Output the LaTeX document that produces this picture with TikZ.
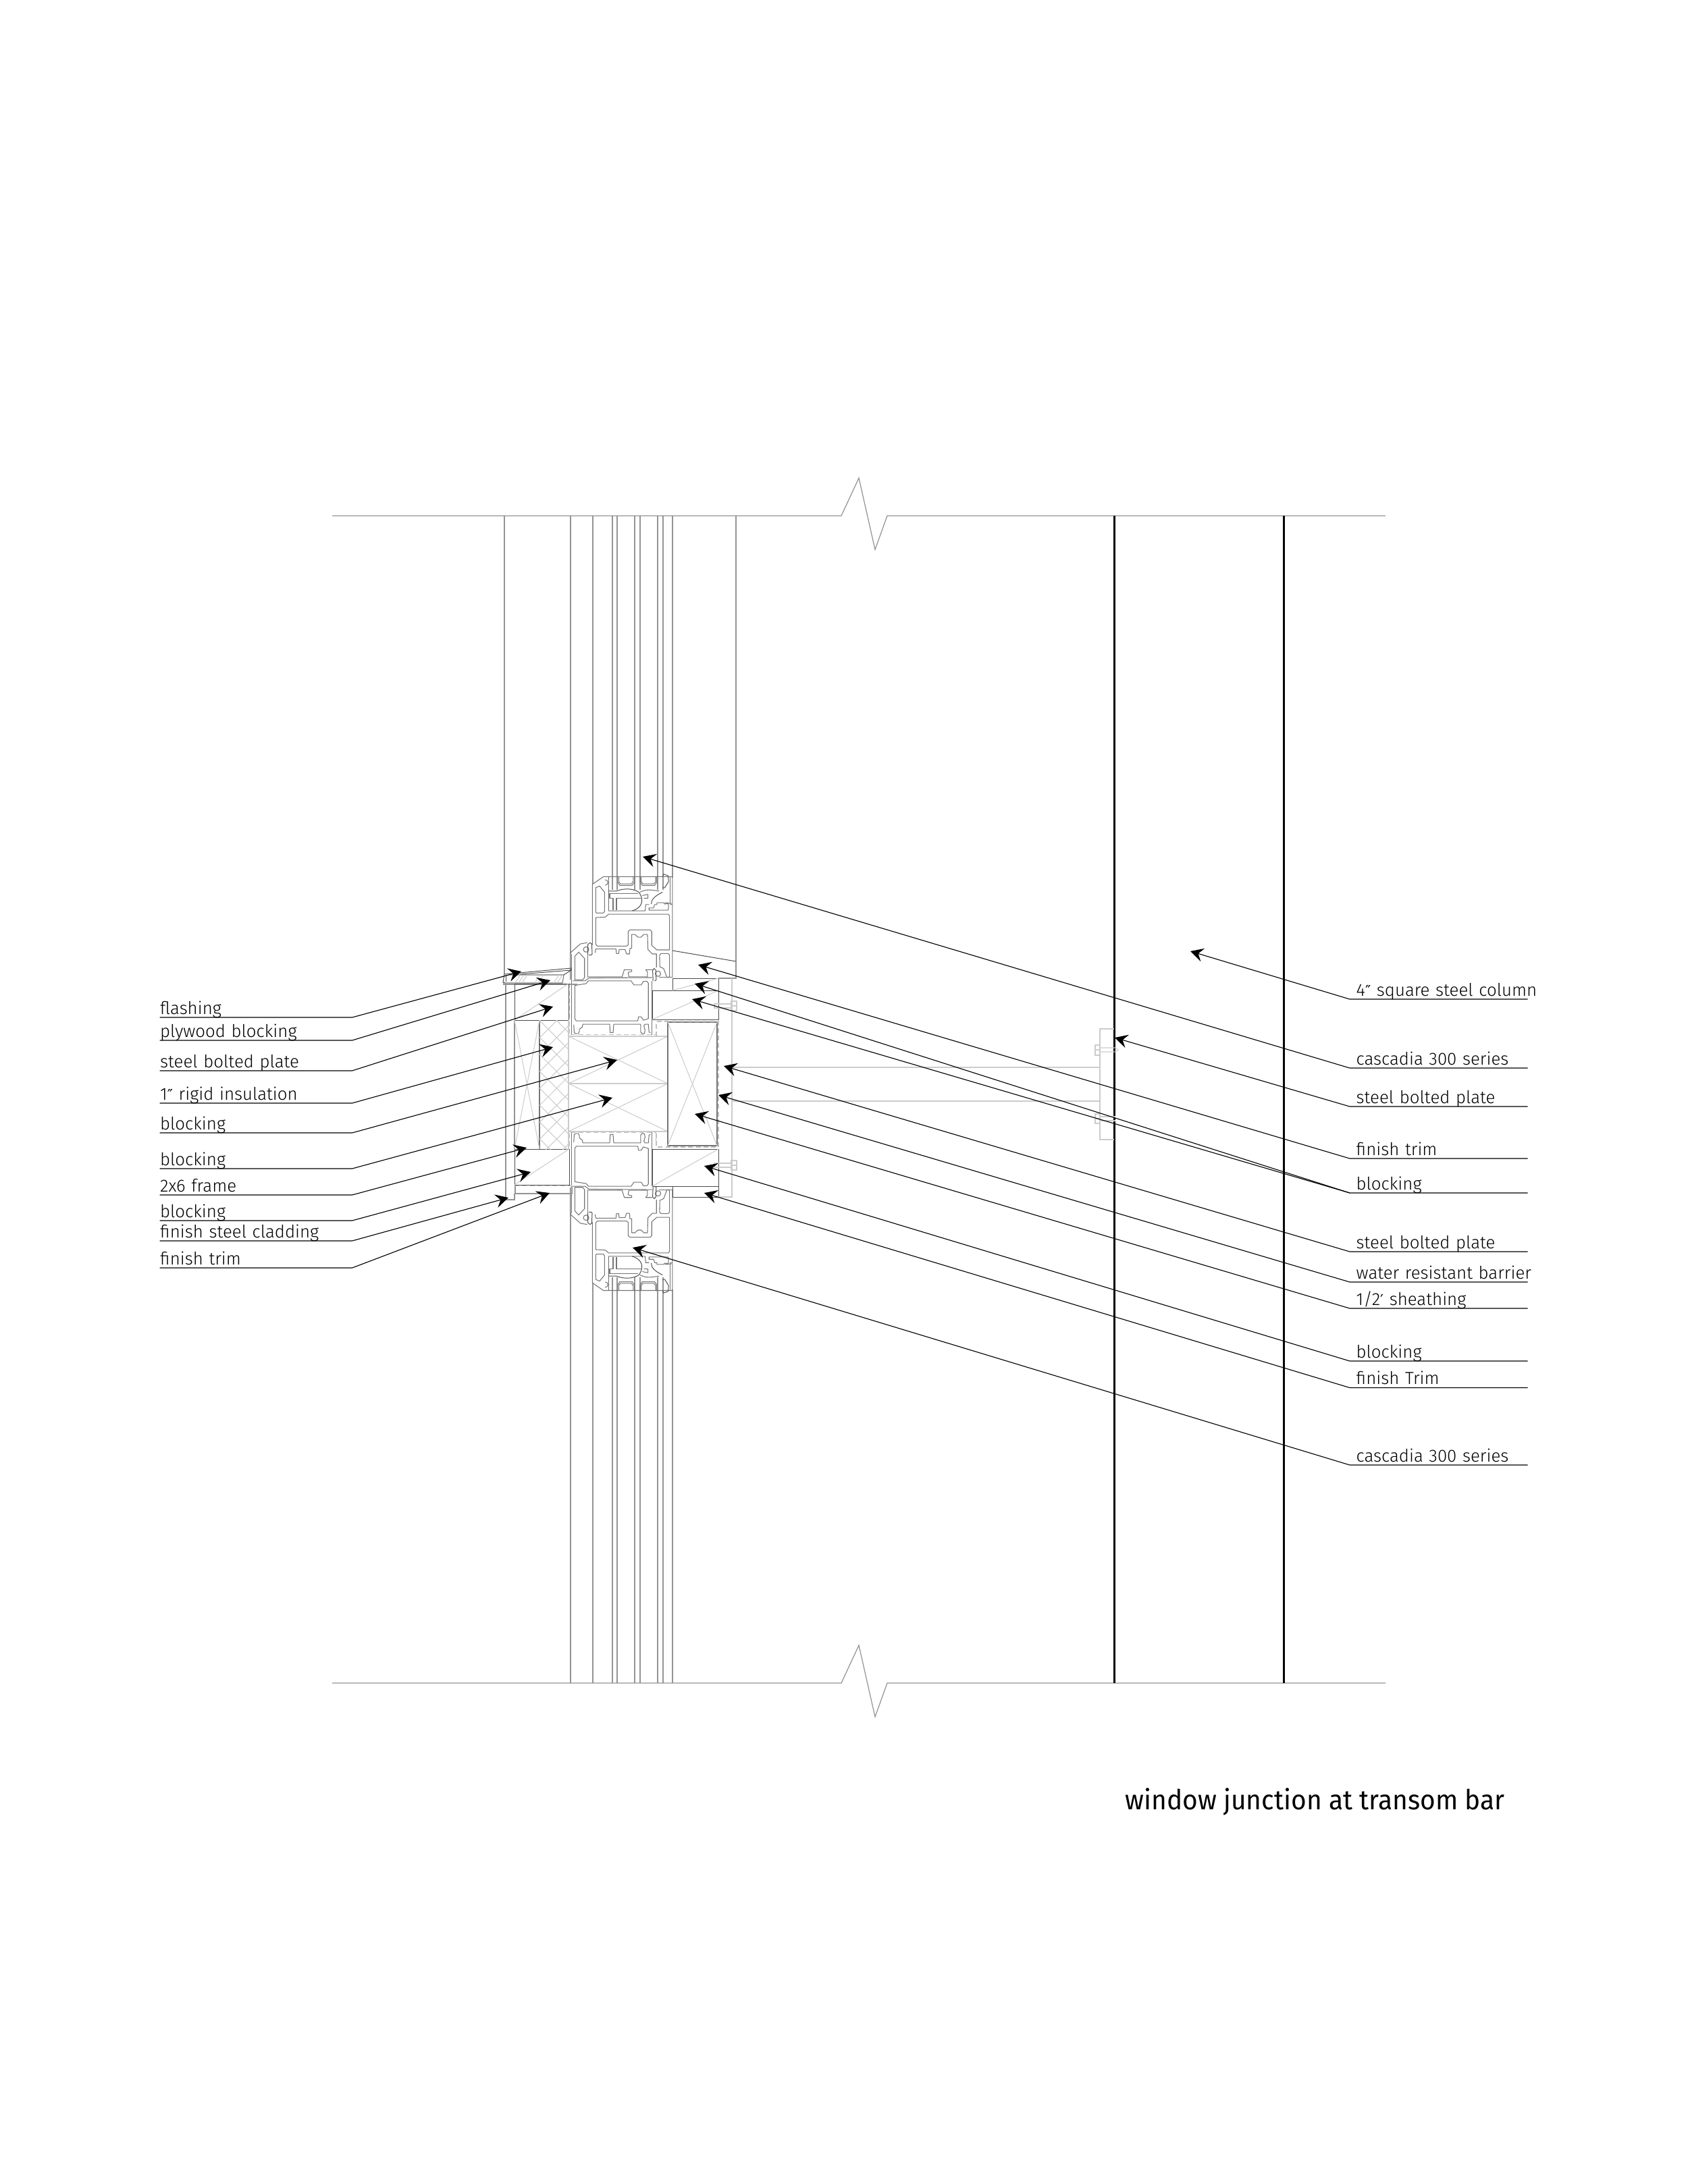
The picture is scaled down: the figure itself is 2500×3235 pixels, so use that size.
\documentclass[tikz,border=0pt]{standalone}
\usepackage{fontspec}
\setmainfont{Fira Sans}[UprightFont=* Light]
\newfontfamily\primefont{DejaVu Sans}[Scale=0.85]
\newfontfamily\titlefont{Fira Sans}[FakeStretch=0.953]
\usetikzlibrary{arrows.meta}
\definecolor{inkdark}{gray}{0.3}
\definecolor{inkframe}{gray}{0.46}
\definecolor{inkglass}{gray}{0.58}
\definecolor{inklight}{gray}{0.8}
\tikzset{
	x=0.01cm, y=-0.01cm,
	lbl/.style={anchor=south west, inner sep=0pt, text width=2.835cm, text depth=0.04cm, font=\fontsize{7.35}{9}\selectfont},
	lbr/.style={anchor=south west, inner ysep=0pt, inner xsep=0.09cm, text width=2.44cm, text depth=0.04cm, font=\fontsize{7.35}{9}\selectfont},
	leader/.style={draw=black, line width=0.32pt, -{Stealth[length=0.19cm,width=0.2cm,inset=0.07cm]}},
	glassline/.style={draw=inkglass, line width=0.4pt},
	profile/.style={draw=inkframe, line width=0.3pt, line join=round},
	blockline/.style={draw=inkdark, line width=0.28pt},
	lightline/.style={draw=inklight, line width=0.3pt},
	greyline/.style={draw=inkglass, line width=0.35pt},
	barrier/.style={draw=inkglass!60, line width=0.3pt, dash pattern=on 2pt off 1.2pt}
}
\newcommand{\frameprofile}{
	\draw[profile] (533,600) -- (533,330) -- (582,296) -- (889,296) -- (889,745);
	\draw[profile] (548,345) -- (565,338) -- (587,365) -- (587,450) -- (582,458) -- (552,458) -- (548,455) -- cycle;
	\draw[profile] (590,310) arc (90:270:-12);
	\draw[profile] (548,478) -- (590,476) -- (605,463) -- (870,463) -- (876,470) -- (876,622) -- (820,622) -- (797,602) -- (797,540) -- (790,533) -- (700,533) -- (692,540) -- (692,600) -- (685,605) -- (555,605) -- (548,598) -- cycle;
	\draw[profile] (545,635) -- (548,618) -- (638,618) -- (640,638) -- (650,638) -- (652,620) -- (678,620) -- (685,640) -- (698,640) -- (700,615) -- (708,615) -- (708,553) -- (722,553) -- (735,565) -- (750,565) -- (762,553) -- (778,553) -- (780,620) -- (800,640) -- (818,640) -- (818,700);
	\draw[profile] (515,742) -- (665,742) -- (675,710) -- (708,710) -- (708,718) -- (692,722) -- (695,742) -- (778,742) -- (778,720) -- (770,710) -- (798,710);
	\draw[profile] (435,755) -- (435,635) -- (480,595) -- (510,590);
	\draw[profile] (455,650) -- (472,632) -- (498,660) -- (498,745) -- (490,755) -- (455,755) -- cycle;
	\draw[profile] (512,600) -- (512,745);
	\draw[profile] (505,620) circle [radius=12];
	\draw[blockline] (513,640) -- (513,598) -- (522,590) -- (530,595) -- (532,640) -- (528,645) -- (517,645);
	\draw[profile] (825,728) circle [radius=12];
	\draw[blockline] (803,760) -- (801,712) -- (808,705) -- (815,712) -- (817,755) -- (810,760);
	\draw[profile] (832,645) -- (838,638) -- (870,638) -- (876,645) -- (876,740) -- (870,745) -- (865,745) -- (850,705) -- (833,697) -- cycle;
	\draw[profile] (445,760) -- (500,760) -- (518,747) -- (800,745);
	\draw[profile] (830,745) -- (889,745);
	\draw[profile] (455,780) -- (505,772) -- (515,760) -- (705,760) -- (718,778) -- (750,778) -- (760,762) -- (775,762) -- (782,770) -- (782,928) -- (760,935) -- (750,920) -- (738,920) -- (735,938) -- (462,938) -- (455,930) -- cycle;
	\draw[profile] (440,640) -- (440,1000);
	\draw[profile] (798,760) -- (798,1000);
	\draw[profile] (450,955) -- (452,990) -- (460,995) -- (470,995) -- (475,985) -- (475,975) -- (488,965) -- (490,953) -- (610,953) -- (612,990) -- (625,990) -- (628,953) -- (748,953) -- (748,988) -- (755,995) -- (765,993) -- (767,978) -- (762,960) -- (767,953) -- (782,953) -- (785,988) -- (792,990);
	\draw[barrier] (430,770) -- (430,1000) -- (815,1000) -- (815,940);
	\draw[profile] (645,293) -- (645,320) -- (655,335) -- (710,335) -- (720,320) -- (720,293);
	\draw[profile] (650,298) -- (650,318) -- (658,328) -- (706,328) -- (715,318) -- (715,298);
	\draw[profile] (745,293) -- (745,320) -- (755,335) -- (810,335) -- (820,320) -- (820,293);
	\draw[profile] (750,298) -- (750,318) -- (758,328) -- (806,328) -- (815,318) -- (815,298);
	\draw[profile] (605,296) -- (605,448) -- (768,448) -- (770,420) -- (785,420);
	\draw[blockline] (605,360) -- (640,360) .. controls (680,345) and (715,350) .. (740,365) .. controls (765,400) and (755,435) .. (710,448);
	\draw[profile] (745,365) .. controls (775,350) and (790,355) .. (830,360);
	\draw[blockline] (845,365) .. controls (805,385) and (795,400) .. (795,418);
	\draw[profile] (610,370) -- (735,370);
	\draw[profile] (610,370) -- (610,392) -- (625,392) -- (625,445);
	\draw[profile] (640,392) -- (640,445);
	\draw[profile] (640,392) -- (755,392);
	\draw[profile] (755,380) -- (780,375) -- (780,392) -- (762,392);
	\draw[profile] (785,445) -- (785,435) -- (805,435) -- (810,420) -- (820,420) -- (820,412) -- (850,412) -- (855,418) -- (870,415) -- (872,430) -- (870,445) -- cycle;
	\draw[blockline] (845,295) -- (850,285) -- (870,292) -- (872,318) -- (855,345) -- (845,345);
	\draw[profile] (880,295) -- (880,418) -- (889,418);
	\draw[profile] (855,412) -- (885,415);
}
\begin{document}
\begin{tikzpicture}
	\useasboundingbox (0,0) rectangle (2500,3235);

	\draw[greyline] (492,764) -- (1246,764) -- (1272,708) -- (1296,814) -- (1314,764) -- (2052,764);
	\draw[greyline] (492,2493) -- (1246,2493) -- (1272,2437) -- (1296,2543) -- (1314,2493) -- (2052,2493);

	\draw[glassline] (747,764) -- (747,1443);
	\draw[glassline] (845,764) -- (845,1412);
	\draw[glassline] (878,764) -- (878,1310);
	\draw[glassline] (907,764) -- (907,1318);
	\draw[glassline] (914,764) -- (914,1318);
	\draw[glassline] (940,764) -- (940,1318);
	\draw[glassline] (948,764) -- (948,1318);
	\draw[glassline] (974,764) -- (974,1318);
	\draw[glassline] (982,764) -- (982,1318);
	\draw[glassline] (996,764) -- (996,1300);
	\draw[glassline] (1090,764) -- (1090,1424);

	\draw[glassline] (845,1797) -- (845,2493);
	\draw[glassline] (878,1900) -- (878,2493);
	\draw[glassline] (907,1892) -- (907,2493);
	\draw[glassline] (914,1892) -- (914,2493);
	\draw[glassline] (940,1892) -- (940,2493);
	\draw[glassline] (948,1892) -- (948,2493);
	\draw[glassline] (974,1892) -- (974,2493);
	\draw[glassline] (982,1892) -- (982,2493);
	\draw[glassline] (996,1910) -- (996,2493);

	\draw[draw=black, line width=0.85pt] (1650,764) -- (1650,2493);
	\draw[draw=black, line width=0.85pt] (1901,764) -- (1901,2493);

	\begin{scope}[shift={(700,1200)},x=0.003333cm,y=-0.003333cm]
		\frameprofile
	\end{scope}
	\begin{scope}[shift={(700,2010)},x=0.003333cm,y=0.003333cm]
		\frameprofile
	\end{scope}

	\draw[blockline] (747,1443) -- (745,1455) -- (748,1455);
	\draw[blockline] (747,1443) -- (846,1434) -- (846,1437) -- (770,1443);
	\draw[blockline] (749,1444) -- (749,1454);
	\draw[profile] (755,1444) -- (835,1444) -- (833,1456) -- (745,1456);
	\draw[blockline] (835,1444) -- (846,1437);
	\draw[greyline] (745,1458) -- (855,1458);
	\draw[lightline] (763,1456) -- (771,1444) (768,1456) -- (776,1444) (773,1456) -- (781,1444);
	\draw[lightline] (792,1456) -- (800,1444) (797,1456) -- (805,1444);
	\draw[lightline] (820,1456) -- (828,1444) (825,1456) -- (833,1444);

	\draw[greyline] (749,1458) -- (749,1777) -- (762,1777) -- (762,1768);
	\draw[greyline] (763,1757) -- (763,1768) -- (847,1768) -- (847,1757);
	\draw[barrier] (762,1756) -- (847,1756);

	\draw[blockline] (762,1457) rectangle (842,1511);
	\draw[lightline] (762,1511) -- (842,1457);
	\draw[blockline] (762,1702) rectangle (843,1755);
	\draw[lightline] (762,1755) -- (843,1702);
	\draw[greyline] (762,1511) -- (762,1702);
	\draw[draw=inkframe, line width=0.45pt] (799,1511) -- (799,1702);
	\draw[lightline] (762,1511) -- (799,1702);
	\draw[lightline] (799,1511) -- (762,1702);
	\draw[lightline] (842,1511) -- (842,1702);
	\begin{scope}
		\clip (799,1511) rectangle (842,1702);
		\draw[lightline, rotate around={45:(820,1600)}, step=0.177cm] (620,1400) grid (1020,1800);
	\end{scope}

	\draw[lightline] (842,1535) rectangle (989,1676);
	\draw[lightline] (842,1605) -- (989,1605);
	\draw[lightline] (842,1535) -- (989,1605);
	\draw[lightline] (842,1605) -- (989,1535);
	\draw[lightline] (842,1605) -- (989,1676);
	\draw[lightline] (842,1676) -- (989,1605);
	\draw[profile] (989,1514) rectangle (1062,1697);
	\draw[lightline] (989,1514) -- (1062,1697);
	\draw[lightline] (1062,1514) -- (989,1697);
	\draw[barrier] (972,1535) -- (972,1513) -- (1064,1513) -- (1064,1699) -- (972,1699) -- (972,1676);

	\draw[blockline] (996,1449) rectangle (1064,1467);
	\draw[blockline] (966,1467) rectangle (1064,1510);
	\draw[lightline] (996,1467) -- (1064,1449);
	\draw[lightline] (966,1510) -- (1064,1467);
	\draw[blockline] (966,1702) rectangle (1064,1757);
	\draw[blockline] (996,1757) rectangle (1064,1773);
	\draw[lightline] (966,1757) -- (1064,1702);

	\draw[blockline] (996,1408) -- (1090,1424);
	\draw[greyline] (1090,1424) -- (1090,1449) -- (1064,1449);
	\draw[lightline] (1084,1449) -- (1084,1773) -- (1064,1773);

	\draw[lightline] (1083,1483) rectangle (1091,1497);
	\draw[lightline] (1083,1490) -- (1091,1490);
	\draw[lightline] (1058,1487) rectangle (1083,1493);
	\draw[lightline] (1083,1719) rectangle (1091,1733);
	\draw[lightline] (1083,1726) -- (1091,1726);
	\draw[lightline] (1058,1723) rectangle (1083,1729);

	\draw[lightline] (1084,1581) -- (1629,1581);
	\draw[lightline] (1084,1631) -- (1629,1631);
	\draw[lightline] (1650,1524) -- (1629,1524) -- (1629,1688) -- (1650,1688);
	\draw[lightline] (1622,1548) rectangle (1629,1563);
	\draw[lightline] (1622,1555) -- (1629,1555);
	\draw[lightline] (1629,1552) -- (1652,1552) -- (1656,1555) -- (1652,1558) -- (1629,1558);
	\draw[lightline] (1622,1650) rectangle (1629,1664);
	\draw[lightline] (1622,1657) -- (1629,1657);
	\draw[lightline] (1629,1654) -- (1652,1654) (1629,1660) -- (1652,1660);

	\node[lbl] (l1) at (236.5,1507) {flashing};
	\node[lbl] (l2) at (236.5,1541) {plywood blocking};
	\node[lbl] (l3) at (236.5,1586) {steel bolted plate};
	\node[lbl] (l4) at (236.5,1634) {1{\primefont ″} rigid insulation};
	\node[lbl] (l5) at (236.5,1678) {blocking};
	\node[lbl] (l6) at (236.5,1731) {blocking};
	\node[lbl] (l7) at (236.5,1770) {2x6 frame};
	\node[lbl] (l8) at (236.5,1808) {blocking};
	\node[lbl] (l9) at (236.5,1838) {finish steel cladding};
	\node[lbl] (l10) at (236.5,1878) {finish trim};

	\coordinate (tl1) at (772,1439);
	\coordinate (tl2) at (815,1452);
	\coordinate (tl3) at (819,1491);
	\coordinate (tl4) at (819,1551);
	\coordinate (tl5) at (914,1570);
	\coordinate (tl6) at (907,1626);
	\coordinate (tl7) at (780,1700);
	\coordinate (tl8) at (786,1736);
	\coordinate (tl9) at (753,1774);
	\coordinate (tl10) at (814,1767);

	\draw[leader] (l1.south west) -- (l1.south east) -- (tl1);
	\draw[leader] (l2.south west) -- (l2.south east) -- (tl2);
	\draw[leader] (l3.south west) -- (l3.south east) -- (tl3);
	\draw[leader] (l4.south west) -- (l4.south east) -- (tl4);
	\draw[leader] (l5.south west) -- (l5.south east) -- (tl5);
	\draw[leader] (l6.south west) -- (l6.south east) -- (tl6);
	\draw[leader] (l7.south west) -- (l7.south east) -- (tl7);
	\draw[leader] (l8.south west) -- (l8.south east) -- (tl8);
	\draw[leader] (l9.south west) -- (l9.south east) -- (tl9);
	\draw[leader] (l10.south west) -- (l10.south east) -- (tl10);

	\node[lbr] (r1) at (1999,1480) {\mbox{4{\primefont ″} square steel column}};
	\node[lbr] (r2) at (1999,1582) {\mbox{cascadia 300 series}};
	\node[lbr] (r3) at (1999,1639) {steel bolted plate};
	\node[lbr] (r4) at (1999,1716) {finish trim};
	\node[lbr] (r5) at (1999,1767) {blocking};
	\node[lbr] (r6) at (1999,1854) {steel bolted plate};
	\node[lbr] (r7) at (1999,1899) {\mbox{water resistant barrier}};
	\node[lbr] (r8) at (1999,1938) {1/2{\primefont ′} sheathing};
	\node[lbr] (r9) at (1999,2016) {blocking};
	\node[lbr] (r10) at (1999,2055.5) {finish Trim};
	\node[lbr] (r11) at (1999,2170) {\mbox{cascadia 300 series}};

	\coordinate (tr1) at (1763,1409);
	\coordinate (tr2) at (952,1269);
	\coordinate (tr3) at (1651,1537);
	\coordinate (tr4) at (1034,1429);
	\coordinate (tr5) at (1029,1457);
	\coordinate (tr5b) at (1025,1480);
	\coordinate (tr6) at (1072,1579);
	\coordinate (tr7) at (1064,1622);
	\coordinate (tr8) at (1029,1650);
	\coordinate (tr9) at (1043,1727);
	\coordinate (tr10) at (1043,1767);
	\coordinate (tr11) at (937,1848);

	\draw[leader] (r1.south east) -- (r1.south west) -- (tr1);
	\draw[leader] (r2.south east) -- (r2.south west) -- (tr2);
	\draw[leader] (r3.south east) -- (r3.south west) -- (tr3);
	\draw[leader] (r4.south east) -- (r4.south west) -- (tr4);
	\draw[leader] (r5.south east) -- (r5.south west) -- (tr5);
	\draw[leader] (r5.south west) -- (tr5b);
	\draw[leader] (r6.south east) -- (r6.south west) -- (tr6);
	\draw[leader] (r7.south east) -- (r7.south west) -- (tr7);
	\draw[leader] (r8.south east) -- (r8.south west) -- (tr8);
	\draw[leader] (r9.south east) -- (r9.south west) -- (tr9);
	\draw[leader] (r10.south east) -- (r10.south west) -- (tr10);
	\draw[leader] (r11.south east) -- (r11.south west) -- (tr11);

	\node[anchor=base west, inner sep=0pt, font=\titlefont\fontsize{11.6}{14}\selectfont] (title) at (1666,2680) {window junction at transom bar};
\end{tikzpicture}
\end{document}
